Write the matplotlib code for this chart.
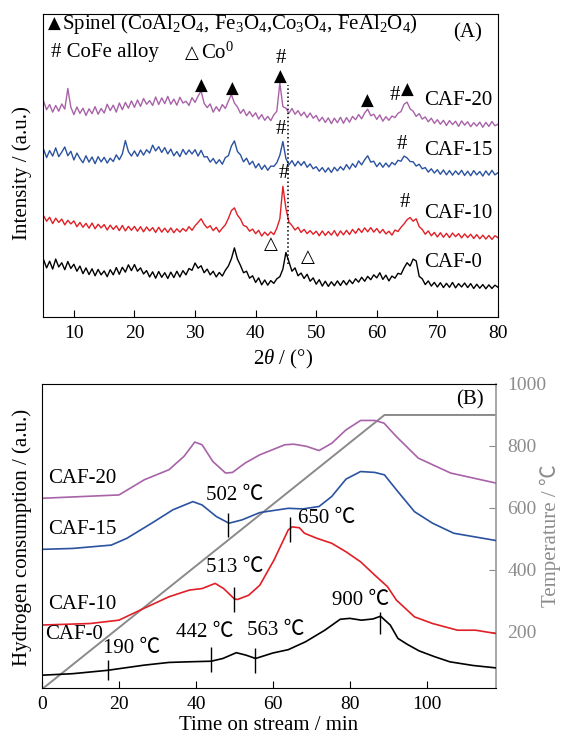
import matplotlib
matplotlib.use("Agg")
import matplotlib.pyplot as plt
import numpy as np

plt.rcParams['font.family'] = ['Liberation Serif', 'Noto Sans CJK SC', 'DejaVu Sans']
plt.rcParams['mathtext.fontset'] = 'custom'
plt.rcParams['mathtext.rm'] = 'Liberation Serif'
plt.rcParams['mathtext.it'] = 'Liberation Serif:italic'

# ---------------- (A) XRD data, 2theta from 5 to 80 step 0.5 ----------------
two_theta = np.arange(5, 80.01, 0.5)

caf20 = [71.2, 68.4, 70.1, 67.6, 69.8, 67.9, 70.3, 68.6, 75.4, 69.2,
         66.8, 69.3, 67.2, 68.9, 66.5, 68.7, 67.1, 69.4, 66.9, 68.8,
         67.3, 70.2, 68.1, 69.9, 67.6, 70.6, 68.4, 70.8, 68.9, 71.3,
         69.2, 71.6, 69.5, 72.1, 70.2, 71.4, 69.8, 72.6, 70.1, 72.3,
         70.4, 72.8, 70.2, 71.9, 69.9, 72.5, 70.6, 71.2, 69.8, 72.4,
         70.8, 72.9, 74.6, 70.5, 69.1, 70.3, 67.6, 69.4, 67.9, 70.1,
         68.8, 71.2, 73.4, 70.6, 69.3, 67.2, 68.5, 66.4, 67.8, 66.1,
         67.4, 65.3, 66.8, 64.9, 66.2, 64.8, 66.7, 67.9, 77.2, 69.4,
         68.9, 67.2, 68.8, 66.9, 68.1, 66.4, 67.6, 65.8, 67.3, 65.6,
         66.5, 64.6, 65.9, 64.2, 65.7, 63.8, 65.6, 64.1, 65.9, 63.9,
         65.8, 64.3, 66.2, 65.1, 66.8, 65.4, 67.3, 68.6, 66.4, 66.9,
         65.2, 66.7, 64.6, 66.1, 64.9, 66.3, 65.8, 67.2, 67.8, 70.2,
         70.9, 68.7, 67.9, 66.2, 67.1, 65.3, 66.0, 64.4, 65.6, 63.9,
         65.1, 63.6, 64.9, 63.2, 64.8, 63.5, 64.6, 62.9, 64.7, 63.3,
         64.4, 62.8, 64.1, 63.0, 64.3, 62.6, 64.2, 62.9, 64.5, 63.1,
         63.6]

caf15 = [55.3, 52.6, 54.9, 53.1, 55.8, 52.9, 54.4, 56.1, 53.2, 54.7,
         51.8, 54.1, 52.3, 50.9, 53.2, 51.1, 52.8, 50.6, 52.9, 51.2,
         52.7, 50.8, 52.4, 51.3, 53.5, 51.9, 53.8, 58.2, 54.6, 53.1,
         54.8, 53.0, 55.1, 53.4, 55.2, 54.1, 56.7, 54.8, 56.2, 54.3,
         55.9, 53.8, 55.4, 53.2, 54.6, 52.9, 55.3, 53.6, 55.1, 53.8,
         55.2, 53.1, 55.0, 52.8, 52.9, 51.1, 52.3, 50.6, 51.9, 50.4,
         52.6, 53.2, 56.4, 58.1, 54.6, 53.5, 51.2, 52.4, 50.3, 51.4,
         49.2, 50.6, 48.7, 50.1, 48.4, 49.8, 49.7, 50.9, 53.4, 57.9,
         52.3, 50.2, 51.6, 49.8, 51.4, 50.0, 51.3, 49.4, 50.5, 48.9,
         49.6, 48.1, 49.3, 47.8, 49.2, 47.7, 49.4, 48.2, 49.6, 48.5,
         50.3, 48.8, 50.6, 49.4, 51.5, 50.2, 51.9, 53.2, 51.1, 51.4,
         49.6, 50.9, 49.4, 50.8, 49.5, 51.0, 50.2, 51.7, 51.4, 53.1,
         52.5, 51.3, 51.2, 49.8, 50.4, 48.9, 49.3, 47.8, 48.9, 47.5,
         48.6, 47.1, 48.5, 46.9, 48.3, 46.8, 48.2, 47.0, 48.4, 46.7,
         48.1, 46.6, 48.3, 46.9, 48.0, 46.5, 48.2, 46.8, 48.4, 46.9,
         47.6]

caf10 = [33.4, 31.6, 32.9, 30.8, 32.6, 31.2, 32.3, 30.4, 31.9, 30.7,
         31.7, 29.8, 31.2, 29.6, 30.9, 29.3, 31.0, 29.1, 30.6, 29.4,
         30.5, 28.7, 30.3, 28.9, 30.1, 28.5, 30.2, 28.4, 29.9, 28.6,
         29.9, 28.3, 29.8, 28.1, 29.7, 28.4, 29.5, 27.9, 29.6, 28.0,
         29.3, 27.9, 29.4, 27.8, 29.1, 28.0, 29.2, 28.3, 29.8, 28.6,
         30.1, 31.2, 32.4, 30.6, 29.4, 30.1, 28.5, 29.6, 28.0, 29.3,
         30.4, 32.5, 35.1, 36.0, 33.6, 32.3, 30.2, 29.8, 28.3, 29.0,
         27.5, 28.6, 26.7, 28.0, 26.9, 28.1, 27.2, 29.3, 32.4, 43.1,
         35.8, 31.3, 30.2, 28.7, 29.6, 27.9, 28.9, 27.5, 28.5, 27.3,
         28.3, 26.8, 28.4, 26.9, 28.2, 27.0, 28.5, 26.7, 28.4, 27.1,
         28.6, 27.2, 28.9, 27.6, 29.2, 27.9, 29.4, 28.1, 29.5, 28.0,
         29.2, 27.7, 28.9, 27.4, 28.3, 27.0, 28.7, 28.2, 29.6, 30.7,
         32.1, 32.8, 31.6, 32.4, 29.8, 28.9, 27.3, 28.4, 26.8, 27.9,
         26.4, 27.8, 26.3, 27.6, 26.2, 27.7, 26.5, 27.5, 26.1, 27.4,
         26.2, 27.3, 25.9, 27.2, 25.8, 27.0, 25.7, 26.9, 25.6, 26.8,
         26.2]

caf0 = [18.9, 16.2, 18.4, 15.8, 19.1, 16.5, 17.9, 15.6, 18.3, 16.0,
        17.4, 15.1, 16.8, 14.3, 16.2, 14.0, 15.9, 13.6, 15.7, 13.9,
        15.2, 13.3, 15.6, 13.9, 16.3, 14.1, 16.4, 14.8, 17.2, 15.3,
        17.3, 15.1, 16.2, 14.2, 15.3, 13.2, 14.9, 12.8, 15.0, 13.1,
        14.6, 12.7, 14.8, 13.0, 15.1, 13.2, 15.3, 13.9, 16.0, 15.4,
        17.8, 16.1, 16.9, 14.6, 15.8, 13.9, 15.1, 13.2, 14.7, 13.5,
        15.4, 16.8, 19.2, 22.8, 19.1, 17.0, 14.6, 15.1, 12.8, 13.6,
        11.4, 12.9, 10.6, 12.2, 10.5, 12.0, 11.1, 12.6, 13.3, 15.8,
        21.3, 18.2, 15.1, 16.2, 13.6, 14.5, 12.7, 14.1, 11.8, 12.9,
        10.8, 12.3, 10.2, 11.8, 10.1, 11.6, 10.3, 11.9, 10.4, 12.0,
        10.6, 12.2, 11.0, 12.6, 11.5, 13.1, 11.8, 13.4, 12.3, 13.9,
        12.9, 14.6, 12.4, 13.8, 11.9, 13.5, 12.8, 14.4, 14.1, 16.2,
        17.9, 16.8, 19.1, 18.5, 13.4, 12.6, 10.7, 11.9, 10.2, 11.4,
        9.9, 11.3, 9.7, 11.1, 9.8, 11.4, 9.6, 11.0, 9.9, 11.2,
        9.7, 11.0, 9.4, 10.8, 9.5, 10.7, 9.3, 10.6, 9.4, 10.5,
        9.8]

xrd_names = ['CAF-20', 'CAF-15', 'CAF-10', 'CAF-0']
xrd_label_y = [71.6, 55.1, 34.1, 18.0]

# peak markers in (A)
spinel_x = [31.0, 36.2, 44.0, 58.5, 65.1]
spinel_y = [76.2, 75.1, 79.3, 71.3, 74.9]
alloy_x = [44.2, 63.0, 44.2, 64.2, 44.6, 64.6]
alloy_y = [85.4, 73.2, 62.0, 57.0, 47.4, 37.7]
co_x = [42.6, 48.7]
co_y = [24.2, 19.8]

# ---------------- (B) H2-TPR data ----------------
t0 = [0, 8, 17, 26.5, 33, 38, 44, 47, 50.5, 53, 55.5, 60, 64, 68.5, 73.5, 77.5,
      80, 83, 86, 88, 90.5, 92.5, 95, 98, 102, 106, 112, 118]
h0 = [4.2, 4.7, 5.8, 7.5, 8.4, 8.6, 8.8, 9.7, 11.6, 10.8, 9.7, 11.5, 12.6, 15.2,
      19.0, 22.6, 22.9, 22.3, 22.7, 23.6, 20.7, 16.3, 14.3, 12.2, 10.3, 8.6, 7.4, 6.6]

t10 = [0, 12.5, 20, 26.5, 33, 38.3, 41.6, 45, 47.2, 50, 50.8, 53.7, 56.6, 60.3, 64,
       65, 66.9, 68.2, 71.5, 75.3, 79, 82.8, 86.5, 89.8, 92.1, 96.8, 101.5, 108, 112.7, 118]
h10 = [20.7, 21.2, 22.3, 26.2, 30.0, 32.2, 32.7, 34.4, 32.7, 29.3, 29.1, 30.5, 33.8,
       42.1, 52.0, 53.0, 52.7, 50.9, 49.2, 47.6, 44.8, 41.5, 37.1, 33.3, 28.9, 23.4,
       21.2, 19.0, 19.0, 17.9]

t15 = [0, 8, 18, 22, 28.5, 34, 39.2, 41.6, 45.3, 48.6, 52, 56.6, 64, 67.8, 72, 75.3,
       79, 82.8, 86.5, 89, 92.1, 96.8, 101.5, 107, 118]
h15 = [45.6, 45.9, 47.0, 49.2, 54.2, 58.6, 61.3, 60.2, 56.4, 54.2, 55.3, 57.7, 59.1,
       58.9, 59.7, 63.0, 68.7, 71.2, 70.9, 70.1, 65.2, 58.0, 54.2, 50.9, 48.5]

t20 = [0, 20, 26.6, 33, 36.9, 39.7, 41.6, 44.4, 47.7, 49.5, 52.8, 56.6, 63.1, 65.4,
       68.7, 72, 75.3, 79, 82.8, 86.5, 88.9, 92.1, 97.8, 106.2, 118]
h20 = [62.4, 63.5, 68.5, 71.8, 76.2, 80.9, 80.0, 74.5, 70.7, 70.9, 74.0, 76.7, 80.0,
       80.2, 79.5, 78.1, 80.5, 84.9, 88.0, 88.0, 87.1, 82.7, 75.6, 70.7, 67.4]

temp_t = [0.5, 89, 118]
temp_T = [20, 900, 900]

tpr_names = ['CAF-20', 'CAF-15', 'CAF-10', 'CAF-0']
tpr_label_x = [1.6, 1.6, 1.6, 0.7]
tpr_label_y = [68.8, 52.2, 27.5, 17.7]

peak_labels = ['190 ℃', '442 ℃', '563 ℃', '900 ℃', '502 ℃', '513 ℃', '650 ℃']
peak_t = [17.2, 43.9, 55.4, 87.9, 48.3, 49.8, 64.4]
peak_lo = [2.5, 5.3, 5.0, 17.9, 49.6, 25.1, 48.1]
peak_hi = [9.1, 13.5, 13.0, 25.0, 57.7, 33.3, 56.4]
peak_text_x = [15.8, 34.7, 53.4, 75.3, 42.7, 42.5, 66.4]
peak_text_y = [13.0, 18.2, 18.8, 28.9, 63.3, 39.7, 55.8]

colors = ['#a862a8', '#2a52a0', '#e01f26', 'black']
gray = '#8a8a8a'

fig = plt.figure(figsize=(5.64, 7.38), dpi=100)

# ---------------- panel A ----------------
ax1 = fig.add_axes([0.0762, 0.5705, 0.8067, 0.4106])
for y, c in zip([caf20, caf15, caf10, caf0], colors):
    ax1.plot(two_theta, y, color=c, lw=1.0)
ax1.set_xlim(4.9, 80)
ax1.set_ylim(0, 100)
ax1.set_xticks(range(10, 81, 10))
ax1.set_yticks([])
ax1.tick_params(axis='x', direction='in', length=5, labelsize=14, pad=6)
for name, y in zip(xrd_names, xrd_label_y):
    ax1.text(67.8, y, name, fontsize=15, va='center')
ax1.plot([45.3, 45.3], [17.6, 76.5], ls=':', color='k', lw=1.1)
for x, y in zip(spinel_x, spinel_y):
    ax1.text(x, y, '▲', fontsize=12, ha='center', va='center', family=['DejaVu Sans'])
for x, y in zip(alloy_x, alloy_y):
    ax1.text(x, y, '#', fontsize=15, ha='center', va='center')
for x, y in zip(co_x, co_y):
    ax1.text(x, y, '△', fontsize=13, ha='center', va='center', family=['DejaVu Sans'])
ax1.text(5.8, 96.7, '▲', fontsize=12, va='center', family=['DejaVu Sans'])
ax1.text(8.0, 96.7, 'Spinel (CoAl$_2$O$_4$, Fe$_3$O$_4$,Co$_3$O$_4$, FeAl$_2$O$_4$)',
         fontsize=15, va='center')
ax1.text(6.2, 87.2, '# CoFe alloy', fontsize=15, va='center')
ax1.text(28.4, 87.2, '△', fontsize=13, va='center', family=['DejaVu Sans'])
ax1.text(31.0, 87.2, 'Co$^0$', fontsize=15, va='center')
ax1.text(75.0, 93.9, '(A)', fontsize=15, ha='center', va='center')

fig.text(283 / 564, 1 - 359 / 738, r'2$\it{\theta}$ / (°)', fontsize=15, ha='center', va='center')
fig.text(22.5 / 564, 1 - 173 / 738, 'Intensity / (a.u.)', fontsize=15, rotation=90,
         ha='center', va='center')

# ---------------- panel B ----------------
ax2 = fig.add_axes([0.0745, 0.0678, 0.805, 0.4119])
ax3 = ax2.twinx()
ax3.plot(temp_t, temp_T, color=gray, lw=1.4)
ax3.set_ylim(19, 1000)
ax3.set_yticks([200, 400, 600, 800, 1000])
ax3.tick_params(axis='y', direction='in', length=5, colors='#8c8c8c', labelsize=14, pad=8)
ax3.spines['right'].set_color('#9a9a9a')
ax3.spines['right'].set_linewidth(1.2)

for t, h, c in zip([t20, t15, t10, t0], [h20, h15, h10, h0], colors):
    ax2.plot(t, h, color=c, lw=1.2)
ax2.set_zorder(ax3.get_zorder() + 1)
ax2.patch.set_visible(False)
ax2.set_xlim(0, 118)
ax2.set_ylim(0, 100)
ax2.set_yticks([])
ax2.set_xticks(range(0, 101, 20))
ax2.tick_params(axis='x', direction='in', length=5, labelsize=14, pad=6)
ax2.spines['right'].set_visible(False)
ax3.spines['left'].set_visible(False)
ax3.spines['top'].set_visible(False)
ax3.spines['bottom'].set_visible(False)

ax2.vlines(peak_t, peak_lo, peak_hi, color='k', lw=1.0)
for s, x, y in zip(peak_labels, peak_text_x, peak_text_y):
    ax2.text(x, y, s, fontsize=15, va='center')
for name, x, y in zip(tpr_names, tpr_label_x, tpr_label_y):
    ax2.text(x, y, name, fontsize=15, va='center')
ax2.text(111.3, 94.8, '(B)', fontsize=15, ha='center', va='center')

ax2.set_xlabel('Time on stream / min', fontsize=15, labelpad=2)
fig.text(22.5 / 564, 1 - 537 / 738, 'Hydrogen consumption / (a.u.)', fontsize=15,
         rotation=90, ha='center', va='center')
fig.text(550 / 564, 1 - 536 / 738, 'Temperature / ℃', fontsize=15, rotation=90,
         ha='center', va='center', color='#8c8c8c')

fig.savefig('out.png', dpi=100)
